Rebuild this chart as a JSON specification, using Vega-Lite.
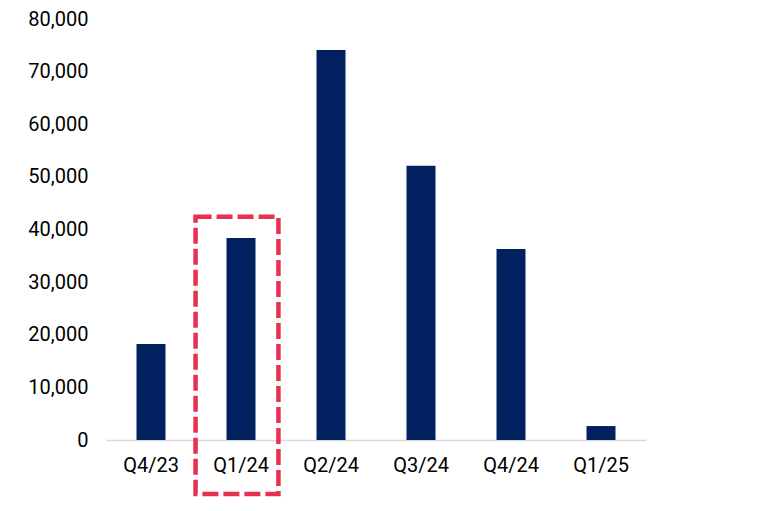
{
  "$schema": "https://vega.github.io/schema/vega-lite/v6.json",
  "width": 540,
  "height": 421,
  "autosize": "none",
  "padding": {"left": 106, "top": 19, "right": 118, "bottom": 71},
  "background": "white",
  "config": {"view": {"stroke": null}, "font": "Roboto"},
  "datasets": {
    "bars": [
      {"quarter": "Q4/23", "value": 18250},
      {"quarter": "Q1/24", "value": 38400},
      {"quarter": "Q2/24", "value": 74100},
      {"quarter": "Q3/24", "value": 52100},
      {"quarter": "Q4/24", "value": 36300},
      {"quarter": "Q1/25", "value": 2650}
    ],
    "box": [
      {"quarter": "Q1/24", "top": 42400, "bottom": -10250}
    ]
  },
  "layer": [
    {
      "data": {"name": "bars"},
      "mark": {"type": "bar", "color": "#002060"},
      "encoding": {
        "x": {
          "field": "quarter", "type": "nominal",
          "sort": ["Q4/23", "Q1/24", "Q2/24", "Q3/24", "Q4/24", "Q1/25"],
          "scale": {"paddingInner": 0.678, "paddingOuter": 0.339},
          "axis": {
            "title": null, "labelAngle": 0, "ticks": false, "grid": false,
            "domainColor": "#d9d9d9", "domainWidth": 1.5,
            "labelFont": "Roboto", "labelFontSize": 20, "labelColor": "#000000",
            "labelPadding": 15
          }
        },
        "y": {
          "field": "value", "type": "quantitative",
          "scale": {"domain": [0, 80000], "nice": false},
          "axis": {
            "title": null, "domain": false, "ticks": false, "grid": false,
            "values": [0, 10000, 20000, 30000, 40000, 50000, 60000, 70000, 80000],
            "format": ",.0f",
            "labelFont": "Roboto", "labelFontSize": 20, "labelColor": "#000000",
            "labelPadding": 18
          }
        }
      }
    },
    {
      "data": {"name": "box"},
      "mark": {
        "type": "bar", "fill": null, "fillOpacity": 0, "stroke": "#E8304F",
        "strokeWidth": 4.5, "strokeDash": [16, 5], "clip": false,
        "width": {"band": 2.86}, "xOffset": -4
      },
      "encoding": {
        "x": {"field": "quarter", "type": "nominal",
          "sort": ["Q4/23", "Q1/24", "Q2/24", "Q3/24", "Q4/24", "Q1/25"]},
        "y": {"field": "top", "type": "quantitative"},
        "y2": {"field": "bottom"}
      }
    }
  ]
}
